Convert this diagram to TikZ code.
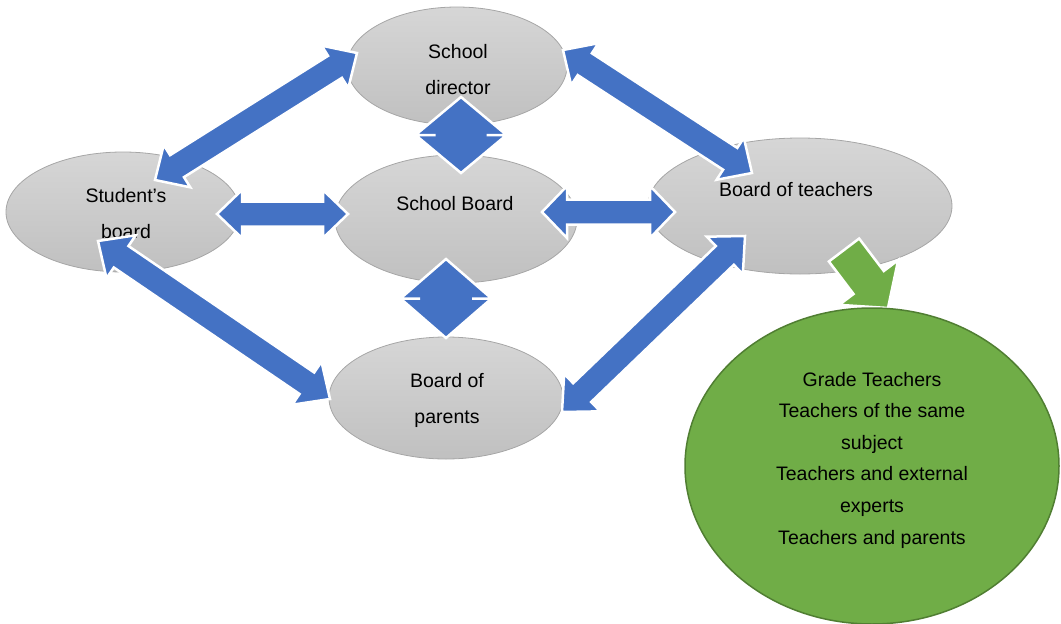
\documentclass[tikz,border=0pt]{standalone}
\usepackage{fontspec}
\setmainfont{Liberation Sans}
\usetikzlibrary{calc,shapes.geometric}
\definecolor{arrowblue}{HTML}{4472C4}
\definecolor{boxgreen}{HTML}{70AD47}
\definecolor{boxgreenline}{HTML}{507E32}
\definecolor{boxline}{HTML}{A6A6A6}
\definecolor{graytop}{HTML}{D6D6D6}
\definecolor{graybot}{HTML}{C0C0C0}
\tikzset{
  bubble/.style={ellipse, draw=boxline, line width=.8pt, top color=graytop,
    bottom color=graybot, inner sep=0pt},
  greenbubble/.style={ellipse, draw=boxgreenline, line width=1.5pt,
    fill=boxgreen, inner sep=0pt},
  lbl/.style={align=center, inner sep=0pt, font=\fontsize{19.5}{36}\selectfont},
  greenlbl/.style={lbl, font=\fontsize{19.5}{31.6}\selectfont},
  blockarrow/.style={fill=arrowblue, draw=white, line width=2.5pt},
  greenarrow/.style={fill=boxgreen, draw=white, line width=2.5pt},
}
% double block arrow: head length, head half width, shaft half width, tip, tip
\newcommand\dblarrow[5]{%
  \filldraw[blockarrow] (#4) -- ($(#4)!#1!(#5)!#2!90:(#5)$)
    -- ($(#4)!#1!(#5)!#3!90:(#5)$) -- ($(#5)!#1!(#4)!#3!-90:(#4)$)
    -- ($(#5)!#1!(#4)!#2!-90:(#4)$) -- (#5)
    -- ($(#5)!#1!(#4)!#2!90:(#4)$) -- ($(#5)!#1!(#4)!#3!90:(#4)$)
    -- ($(#4)!#1!(#5)!#3!-90:(#5)$) -- ($(#4)!#1!(#5)!#2!-90:(#5)$) -- cycle;}
\begin{document}
\begin{tikzpicture}[x=1pt,y=-1pt]
\useasboundingbox (0,0) rectangle (1061,624);
% councils
\node[bubble, minimum width=220pt, minimum height=118pt] (dir) at (457,66) {};
\node[bubble, minimum width=234pt, minimum height=120pt] (stud) at (123,212) {};
\node[bubble, minimum width=242pt, minimum height=128pt] (brd) at (456,219) {};
\node[bubble, minimum width=304pt, minimum height=136pt] (teach) at (800,206) {};
\node[bubble, minimum width=234pt, minimum height=122pt] (par) at (446,398) {};
\node[lbl] (dir-txt) at (458,70) {School\\director};
\node[lbl] (stud-txt) at (126,214) {Student’s\\board};
\node[lbl] (brd-txt) at (455,204) {School Board};
\node[lbl] (teach-txt) at (796,190) {Board of teachers};
\node[lbl] (par-txt) at (447,400) {Board of\\parents};
% groups of teachers
\coordinate (gr-tail) at (844,250);
\coordinate (gr-tip) at (888,308);
\filldraw[greenarrow] ($(gr-tail)!19pt!90:(gr-tip)$)
  -- ($(gr-tip)!32pt!(gr-tail)!19pt!-90:(gr-tail)$)
  -- ($(gr-tip)!32pt!(gr-tail)!37pt!-90:(gr-tail)$) -- (gr-tip)
  -- ($(gr-tip)!32pt!(gr-tail)!37pt!90:(gr-tail)$)
  -- ($(gr-tip)!32pt!(gr-tail)!19pt!90:(gr-tail)$)
  -- ($(gr-tail)!19pt!-90:(gr-tip)$) -- cycle;
\node[greenbubble, minimum width=374pt, minimum height=316pt] (grp) at (872,466) {};
\node[greenlbl] (grp-txt) at (872,460) {Grade Teachers\\Teachers of the same\\subject\\Teachers and external\\experts\\Teachers and parents};
% arrow tips
\coordinate (dir-w) at (357,53);
\coordinate (stud-n) at (155,180);
\coordinate (stud-e) at (217,214);
\coordinate (brd-w) at (348,214);
\coordinate (brd-e) at (542,212);
\coordinate (teach-w) at (675,212);
\coordinate (dir-e) at (563,50);
\coordinate (teach-n) at (752,173);
\coordinate (stud-s) at (98,241);
\coordinate (par-w) at (330,399);
\coordinate (par-e) at (562,412);
\coordinate (teach-s) at (745,236);
\coordinate (dir-s) at (461,97);
\coordinate (brd-n) at (461,173);
\coordinate (brd-s) at (446,259);
\coordinate (par-n) at (446,338);
\dblarrow{26pt}{25pt}{13pt}{dir-w}{stud-n}
\dblarrow{25pt}{24pt}{12.5pt}{stud-e}{brd-w}
\dblarrow{25pt}{26pt}{12.5pt}{brd-e}{teach-w}
\dblarrow{26pt}{25pt}{13pt}{dir-e}{teach-n}
\dblarrow{28pt}{26pt}{13pt}{stud-s}{par-w}
\dblarrow{28pt}{26pt}{13pt}{par-e}{teach-s}
\dblarrow{38pt}{45.5pt}{25.5pt}{dir-s}{brd-n}
\dblarrow{39.5pt}{45.5pt}{26pt}{brd-s}{par-n}
\end{tikzpicture}
\end{document}
